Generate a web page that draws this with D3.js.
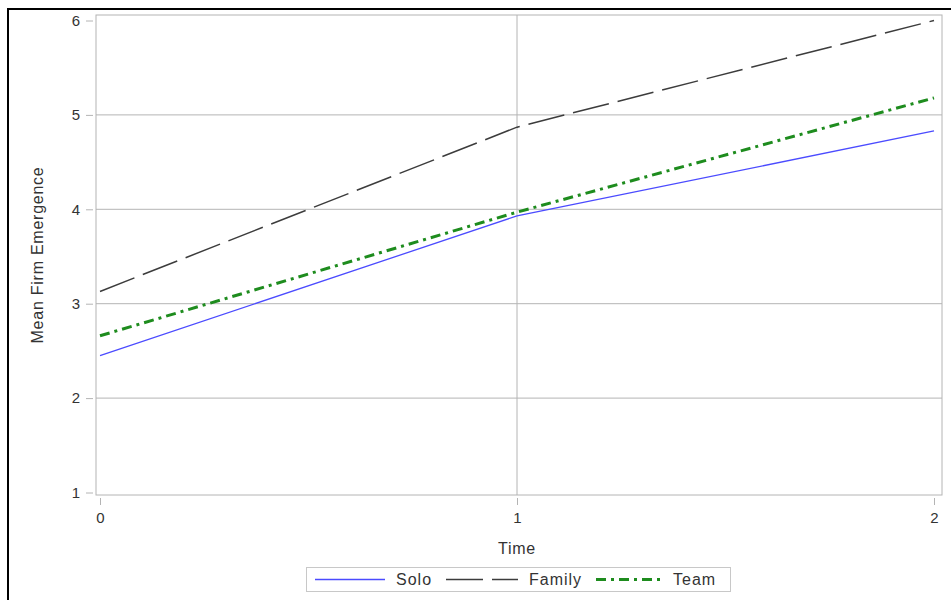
<!DOCTYPE html>
<html>
<head>
<meta charset="utf-8">
<script src="https://cdn.jsdelivr.net/npm/d3@7"></script>
<style>
body { margin: 0; background: #fff; }
svg { display: block; font-family: "Liberation Sans", Arial, sans-serif; }
</style>
</head>
<body>
<div id="chart"></div>
<script>
// data
var times = [0, 1, 2];
var solo = [2.45, 3.93, 4.83];
var family = [3.13, 4.87, 6.0];
var team = [2.66, 3.97, 5.18];
var yTicks = [1, 2, 3, 4, 5, 6];
var seriesNames = ["Solo", "Family", "Team"];

var width = 951, height = 600;
var svg = d3.select("#chart").append("svg")
	.attr("width", width)
	.attr("height", height);

// outer frame
svg.append("rect")
	.attr("x", 8).attr("y", 9)
	.attr("width", 960).attr("height", 620)
	.style("fill", "none").style("stroke", "#000").style("stroke-width", 2);

var plotL = 96, plotR = 942, plotT = 15, plotB = 495;

var x = d3.scaleLinear().domain([0, 2]).range([100, 934]);
var y = d3.scaleLinear().domain([1, 6]).range([492.5, 20.5]);

// grid
var grid = svg.append("g");
[2, 3, 4, 5].forEach(function(v) {
	grid.append("line")
		.attr("x1", plotL).attr("x2", plotR)
		.attr("y1", y(v)).attr("y2", y(v))
		.style("stroke", "#b4b4b4").style("stroke-width", 1);
});
grid.append("line")
	.attr("x1", x(1)).attr("x2", x(1))
	.attr("y1", plotT).attr("y2", plotB)
	.style("stroke", "#b4b4b4").style("stroke-width", 1);

// plot frame
svg.append("rect")
	.attr("x", plotL).attr("y", plotT)
	.attr("width", plotR - plotL).attr("height", plotB - plotT)
	.style("fill", "none").style("stroke", "#b4b4b4").style("stroke-width", 1);

// axes
var yAxis = d3.axisLeft(y).tickValues(yTicks).tickSize(7).tickPadding(6).tickFormat(d3.format("d"));
var yG = svg.append("g").attr("transform", "translate(" + (plotL - 3) + ",0)").call(yAxis);
yG.select(".domain").remove();

var xAxis = d3.axisBottom(x).tickValues(times).tickSize(7).tickPadding(7).tickFormat(d3.format("d"));
var xG = svg.append("g").attr("transform", "translate(0," + (plotB + 3) + ")").call(xAxis);
xG.select(".domain").remove();

svg.selectAll(".tick line").style("stroke", "#b4b4b4");
svg.selectAll(".tick text").attr("font-size", 15).style("font-size", "15px").style("fill", "#333")
	.style("font-family", "'Liberation Sans', Arial, sans-serif");

svg.append("text")
	.attr("x", x(1)).attr("y", 554)
	.attr("text-anchor", "middle")
	.style("font-size", "16px").style("letter-spacing", "0.7px").style("fill", "#333")
	.text("Time");

svg.append("text")
	.attr("transform", "translate(43," + ((plotT + plotB) / 2) + ") rotate(-90)")
	.attr("text-anchor", "middle")
	.style("font-size", "16px").style("letter-spacing", "0.75px").style("fill", "#333")
	.text("Mean Firm Emergence");

// lines
var styles = [
	{ color: "#4b4bff", width: 1.3, dash: null },
	{ color: "#3c3c3c", width: 1.5, dash: "37,9" },
	{ color: "#1e8c1e", width: 3, dash: "10,5,3,5" }
];
var allSeries = [solo, family, team];
var line = d3.line()
	.x(function(d, i) { return x(times[i]); })
	.y(function(d) { return y(d); });

allSeries.forEach(function(s, i) {
	svg.append("path")
		.attr("d", line(s))
		.style("fill", "none")
		.style("stroke", styles[i].color)
		.style("stroke-width", styles[i].width)
		.style("stroke-dasharray", styles[i].dash);
});

// legend
var legend = svg.append("g");
legend.append("rect")
	.attr("x", 306.5).attr("y", 567.5)
	.attr("width", 424).attr("height", 24)
	.style("fill", "#fff").style("stroke", "#c8c8c8").style("stroke-width", 1);
var legX = [315, 446, 596];
var legLen = [70, 72, 66];
seriesNames.forEach(function(name, i) {
	legend.append("line")
		.attr("x1", legX[i]).attr("x2", legX[i] + legLen[i])
		.attr("y1", 579.5).attr("y2", 579.5)
		.style("stroke", styles[i].color)
		.style("stroke-width", styles[i].width)
		.style("stroke-dasharray", styles[i].dash);
	legend.append("text")
		.attr("x", legX[i] + legLen[i] + 11)
		.attr("y", 585)
		.style("font-size", "16px").style("letter-spacing", "1px").style("fill", "#333")
		.text(name);
});
</script>
</body>
</html>
